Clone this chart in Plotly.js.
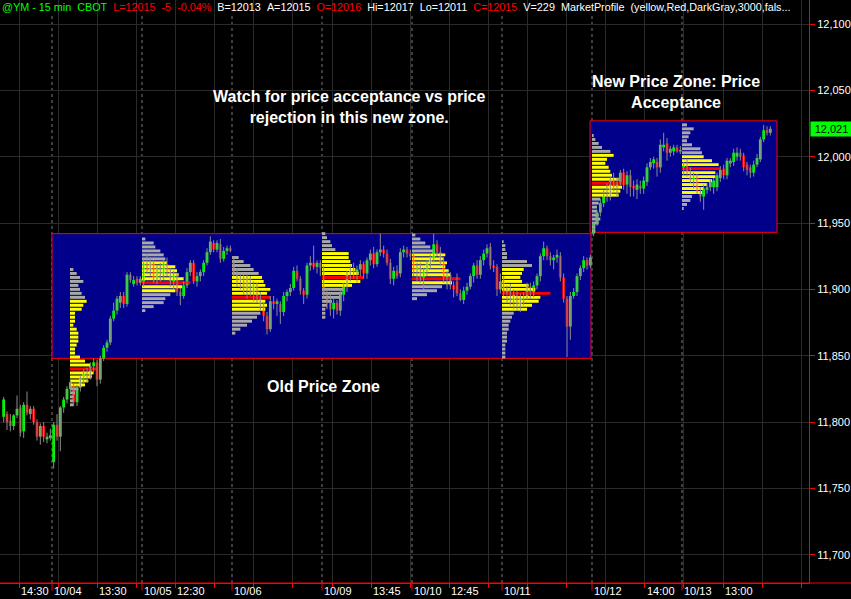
<!DOCTYPE html>
<html><head><meta charset="utf-8">
<script src="https://cdn.plot.ly/plotly-3.0.1.min.js"></script>
<style>html,body{margin:0;padding:0;background:#000;}#chart{width:851px;height:599px;}</style>
</head><body><div id="chart"></div>
<script>
// ---- candle data: [open, high, low, close] per 15-min bar, by session ----
const b1003 = [[11804,11819,11800,11817],[11806,11808,11794,11800],[11801,11806,11793,11797],[11797,11806,11794,11805],[11805,11820,11803,11810],[11811,11813,11789,11792],[11793,11815,11788,11813],[11813,11823,11805,11807],[11806,11812,11802,11810],[11810,11812,11798,11800],[11800,11802,11786,11789],[11789,11799,11783,11797],[11797,11800,11785,11789],[11787,11792,11784,11789],[11788,11795,11786,11790]];
const b1004 = [[11770,11800,11765,11798],[11798,11806,11786,11789],[11789,11812,11778,11811],[11811,11819,11807,11817],[11817,11827,11814,11825],[11825,11832,11822,11830],[11827,11829,11812,11815],[11815,11828,11812,11826],[11826,11835,11823,11833],[11833,11840,11829,11838],[11838,11841,11830,11834],[11834,11845,11832,11842],[11842,11848,11836,11845],[11845,11847,11827,11832],[11832,11850,11829,11848],[11848,11858,11846,11856],[11856,11862,11853,11860],[11860,11880,11858,11878],[11878,11890,11876,11884],[11884,11895,11881,11893],[11890,11898,11886,11895],[11895,11898,11886,11889],[11889,11913,11887,11911],[11911,11913,11905,11907],[11904,11910,11902,11907],[11908,11910,11903,11905],[11905,11910,11903,11908]];
const b1005 = [[11904,11923,11902,11921],[11921,11926,11912,11915],[11915,11924,11910,11920],[11920,11922,11905,11908],[11908,11918,11904,11916],[11916,11920,11906,11910],[11910,11922,11907,11919],[11919,11924,11910,11913],[11913,11916,11902,11905],[11905,11914,11900,11911],[11908,11912,11895,11898],[11898,11901,11888,11895],[11895,11906,11893,11903],[11903,11916,11901,11913],[11913,11922,11910,11920],[11920,11922,11904,11906],[11906,11913,11902,11910],[11910,11915,11906,11913],[11913,11922,11910,11920],[11920,11931,11918,11928],[11928,11940,11926,11936],[11935,11937,11928,11930],[11930,11937,11928,11935],[11934,11938,11920,11923],[11923,11932,11921,11929],[11929,11933,11926,11931],[11931,11933,11928,11929]];
const b1006 = [[11922,11924,11910,11912],[11912,11916,11902,11905],[11905,11912,11900,11909],[11909,11911,11896,11899],[11899,11912,11893,11908],[11908,11910,11895,11897],[11897,11906,11891,11903],[11903,11905,11890,11893],[11893,11898,11884,11887],[11887,11890,11876,11880],[11880,11883,11866,11870],[11870,11895,11868,11891],[11891,11895,11885,11889],[11889,11893,11880,11891],[11889,11891,11874,11883],[11883,11898,11880,11895],[11895,11900,11891,11898],[11898,11904,11895,11901],[11901,11917,11899,11914],[11914,11918,11906,11908],[11908,11910,11896,11899],[11899,11901,11889,11896],[11896,11920,11893,11918],[11918,11925,11914,11920],[11920,11933,11915,11917],[11917,11922,11912,11920],[11920,11922,11910,11916]];
const b1009 = [[11916,11918,11893,11896],[11896,11900,11885,11890],[11890,11897,11880,11885],[11885,11894,11878,11890],[11890,11892,11881,11884],[11884,11900,11880,11896],[11896,11905,11891,11902],[11902,11914,11898,11911],[11911,11918,11906,11915],[11915,11920,11908,11912],[11912,11918,11905,11915],[11915,11922,11910,11919],[11919,11921,11908,11912],[11912,11924,11908,11922],[11922,11930,11918,11927],[11927,11932,11916,11919],[11919,11930,11917,11928],[11928,11942,11925,11930],[11930,11933,11924,11927],[11927,11930,11918,11920],[11920,11923,11904,11908],[11908,11917,11903,11914],[11914,11918,11908,11910],[11912,11931,11909,11928],[11928,11933,11924,11930],[11930,11932,11924,11927],[11927,11930,11922,11925]];
const b1010 = [[11925,11928,11910,11914],[11914,11920,11906,11917],[11917,11920,11905,11908],[11908,11916,11900,11913],[11913,11922,11910,11920],[11920,11926,11915,11924],[11924,11942,11921,11934],[11934,11937,11925,11928],[11928,11932,11918,11921],[11921,11924,11905,11908],[11908,11914,11900,11911],[11911,11913,11900,11903],[11903,11906,11894,11900],[11906,11912,11895,11897],[11897,11900,11891,11892],[11892,11902,11889,11899],[11899,11905,11896,11902],[11902,11912,11900,11910],[11910,11920,11905,11918],[11918,11922,11908,11911],[11911,11925,11908,11922],[11922,11930,11918,11927],[11927,11934,11924,11931],[11932,11935,11915,11918],[11918,11922,11913,11916],[11917,11919,11895,11900],[11900,11912,11897,11906]];
const b1011 = [[11906,11910,11895,11898],[11898,11903,11890,11900],[11900,11904,11888,11892],[11892,11900,11885,11896],[11896,11899,11884,11889],[11889,11897,11883,11893],[11893,11898,11888,11895],[11895,11905,11892,11902],[11902,11905,11893,11897],[11897,11906,11894,11903],[11903,11912,11900,11910],[11910,11927,11906,11925],[11925,11936,11922,11931],[11931,11933,11922,11925],[11925,11928,11918,11922],[11922,11926,11915,11924],[11924,11930,11920,11926],[11925,11928,11906,11909],[11909,11912,11890,11893],[11893,11895,11849,11872],[11872,11898,11862,11895],[11895,11901,11893,11898],[11898,11912,11895,11910],[11910,11918,11907,11916],[11916,11925,11913,11922],[11922,11924,11915,11918],[11918,11926,11916,11924]];
const b1012 = [[11942,11951,11940,11950],[11950,11960,11948,11958],[11958,11968,11955,11965],[11965,11975,11962,11972],[11972,11980,11966,11970],[11970,11985,11967,11982],[11982,11988,11974,11977],[11977,11984,11970,11981],[11981,11990,11978,11988],[11988,11991,11975,11979],[11979,11989,11972,11986],[11986,11990,11970,11977],[11978,11982,11970,11976],[11975,11983,11968,11979],[11978,11982,11972,11976],[11976,11985,11972,11982],[11981,11995,11978,11992],[11992,11999,11990,11996],[11995,12000,11991,11998],[11996,11999,11985,11992],[11992,12013,11988,12009],[12007,12018,12004,12009],[12010,12014,11997,12003],[12003,12008,12000,12006],[12004,12009,12001,12007],[12007,12009,12003,12004],[12004,12008,12002,12005]];
const b1013 = [[11990,11996,11986,11994],[11994,11998,11985,11988],[11988,11992,11980,11983],[11983,11988,11976,11985],[11985,11987,11972,11974],[11974,11977,11966,11970],[11970,11979,11960,11976],[11975,11980,11972,11977],[11977,11983,11974,11981],[11977,11984,11972,11982],[11977,11988,11974,11986],[11984,11993,11981,11990],[11991,11994,11983,11986],[11986,11999,11983,11997],[11995,11999,11992,11997],[11996,12006,11993,12003],[12000,12007,11997,12003],[12003,12006,11997,12000],[12001,12003,11989,11992],[11994,11996,11986,11990],[11992,11994,11984,11988],[11988,11997,11985,11994],[11994,12002,11992,11999],[11998,12015,11996,12013],[12013,12024,12011,12020],[12020,12023,12016,12018],[12018,12023,12016,12021]];
const sessionBars = [b1003, b1004, b1005, b1006, b1009, b1010, b1011, b1012, b1013];
const sessionStart = [-15, 0, 27, 54, 81, 108, 135, 162, 189];   // bar index where each session begins

// ---- market profile (TPO counts per 3-point price level, top to bottom) ----
const mp1004 = [1,2,3,4,2.5,3,3.5,4.5,5,4,3.5,1.5,1.5,1.5,1,2,2.5,2.5,2.5,2,1.5,1.5,3,4.5,6,8,7,6.5,5.5,4.5,2.5,1.5,1,1,1];
const mp1005 = [1,3.5,4,5.5,6.5,7,7.5,10,10.5,11,12.5,14.5,12,10,8.5,7,6.5,3.5,1];
const mp1006 = [2,3.5,5.5,6.5,8,9,9.5,10,11.5,10.5,11.5,10,10.5,10,8.5,7.5,6,4.5,2.5,1];
const mp1009 = [1,1.5,2.5,3,4,8,8,8.5,9,10,11,12.5,11.5,9,6.5,6,5.5,3,1.5,1,1,1];
const mp1010 = [1,2.5,4,5.5,6.5,10,9.5,10.5,10,11,11.5,14.5,12,9,7.5,4.5,1.5];
const mp1011 = [0.5,1,1,1.5,1.5,7.5,9,6.5,6,5.5,6,8,10,14.5,11.5,11,9,7.5,3.5,3,2.5,2,2,1.5,1.5,1.5,1,1,1,1];
const mp1012 = [0.5,1,2,3,5.5,6.5,4.5,4,5,5.5,6,8,10,9,8.5,8,2.5,2,1.5,1.5,2,2.5,2,1,1];
const mp1013 = [1.5,3.5,2.5,2,1.5,3,5.5,6,6.5,9,11,11.5,10,10,9,7.5,6.5,6,3,2.5,1.5,0.5];
const mpLevels = [mp1004, mp1005, mp1006, mp1009, mp1010, mp1011, mp1012, mp1013];
const mpTop = [11915, 11938, 11924, 11942, 11941, 11936, 12016, 12024];
const mpStart = [5.4, 27, 54, 81, 108, 135, 162, 189];
const mpValueArea = [[8,29],[6,13],[5,13],[5,13],[5,12],[7,17],[5,15],[8,17]];
const mpPOC = [25, 11, 10, 11, 11, 13, 12, 11];
const mpStep = 3;

// ---- zones (price ranges and session spans) ----
const oldZone = {x0: 0, x1: 161.7, lo: 11848, hi: 11942};
const newZone = {x0: 161.4, x1: 217.5, lo: 11943, hi: 12027};

// ---- axis labels ----
const yTicks = [11700, 11750, 11800, 11850, 11900, 11950, 12000, 12050, 12100];
const gridX = [-9.9, 1.8, 13.6, 25.3, 37.0, 48.8, 60.5, 72.2, 84.0, 95.7, 107.4, 119.1, 130.9, 142.6, 154.3, 166.1, 177.8, 189.5, 201.3, 213.0, 224.7];
const xLabelText = ['14:30','10/04','13:30','10/05','12:30','10/06','10/09','13:45','10/10','12:45','10/11','10/12','14:00','10/13','13:00'];
const xLabelPos = [-9.9, 0, 13.6, 27, 37.0, 54, 81, 95.7, 108, 119.1, 135, 162, 177.8, 189, 201.3];
const lastPrice = 12021;
const header = [['@YM - 15 min','#00ff00'],['CBOT','#00ff00'],['L=12015','#ff0000'],['-5','#ff0000'],['-0.04%','#ff0000'],['B=12013','#ffffff'],['A=12015','#ffffff'],['O=12016','#ff0000'],['Hi=12017','#ffffff'],['Lo=12011','#ffffff'],['C=12015','#ff0000'],['V=229','#ffffff'],['MarketProfile\u00a0\u00a0(yellow,Red,DarkGray,3000,fals...','#ffffff']];

// ---- build traces ----
const GREEN = '#00ff00', RED = '#ff0000', YEL = '#ffff00', GRAY = '#a9a9a9';
const cx = [], co = [], ch = [], cl = [], cc = [];
sessionBars.forEach((bars, d) => bars.forEach((b, k) => {
  cx.push(sessionStart[d] + k + 0.5); co.push(b[0]); ch.push(b[1]); cl.push(b[2]); cc.push(b[3]);
}));
const wx = [], wy = [];
cx.forEach((x, i) => { wx.push(x, x, null); wy.push(cl[i], ch[i], null); });
const wicks = {type:'scatter', mode:'lines', x:wx, y:wy, line:{color:'#8c8c8c', width:1}, hoverinfo:'skip', showlegend:false};
const bodies = {type:'bar', x:cx, base:cx.map((x,i)=>Math.min(co[i],cc[i])),
  y:cx.map((x,i)=>Math.max(Math.abs(cc[i]-co[i]),0.9)), width:0.85,
  marker:{color:cx.map((x,i)=>cc[i]>=co[i]?GREEN:RED), line:{width:0}}, hoverinfo:'skip', showlegend:false};

const profTraces = mpLevels.map((lev, p) => ({
  type:'bar', orientation:'h',
  y: lev.map((v,i)=>mpTop[p]-mpStep*i), x: lev, base: lev.map(()=>mpStart[p]), width:2.2,
  marker:{color: lev.map((v,i)=> i===mpPOC[p] ? RED : (i>=mpValueArea[p][0] && i<=mpValueArea[p][1] ? YEL : GRAY)), line:{width:0}},
  hoverinfo:'skip', showlegend:false
}));

// ---- shapes ----
const shapes = [];
shapes.push({type:'rect', xref:'x', yref:'y', x0:oldZone.x0, x1:oldZone.x1, y0:oldZone.lo, y1:oldZone.hi, fillcolor:'#00008b', line:{color:RED, width:1}, layer:'between'});
shapes.push({type:'rect', xref:'x', yref:'y', x0:newZone.x0, x1:newZone.x1, y0:newZone.lo, y1:newZone.hi, fillcolor:'#00008b', line:{color:RED, width:1}, layer:'between'});
sessionStart.slice(1).forEach(s => {
  shapes.push({type:'line', xref:'x', yref:'paper', x0:s, x1:s, y0:0, y1:1, line:{color:'#7a7a7a', width:1, dash:'3px,3px'}, layer:'between'});
  shapes.push({type:'line', xref:'x', yref:'paper', x0:s, x1:s, y0:0, y1:-0.013, line:{color:RED, width:1}, layer:'above'});
});
shapes.push({type:'rect', xref:'paper', yref:'paper', x0:0, x1:1, y0:1-14/583, y1:1, fillcolor:'#000', line:{width:0}, layer:'between'});
shapes.push({type:'line', xref:'paper', yref:'paper', x0:0, x1:851/809, y0:0, y1:0, line:{color:RED, width:1}, layer:'above'});

// ---- annotations ----
const FONT = 'Liberation Sans, Arial, sans-serif';
const ann = [];
ann.push({xref:'paper', yref:'paper', x:0, y:1, xanchor:'left', yanchor:'top', yshift:1, showarrow:false, align:'left',
  text: header.map(h=>'<span style="color:'+h[1]+'">'+h[0]+'</span>').join('\u00a0\u00a0'),
  font:{family:FONT, size:10.8, color:'#fff'}});
xLabelText.forEach((t,i)=>ann.push({xref:'x', yref:'paper', x:xLabelPos[i], y:-0.0135, xanchor:'left', yanchor:'middle', showarrow:false, text:t, font:{family:FONT, size:11, color:'#fff'}}));
ann.push({xref:'x', yref:'y', x:89.1, y:12037.5, showarrow:false, text:'Watch for price acceptance vs price<br>rejection in this new zone.', font:{family:FONT, size:16, color:'#fff', weight:'bold'}});
ann.push({xref:'x', yref:'y', x:81.3, y:11826.5, showarrow:false, text:'Old Price Zone', font:{family:FONT, size:16, color:'#fff', weight:'bold'}});
ann.push({xref:'x', yref:'y', x:187.2, y:12048.8, showarrow:false, text:'New Price Zone: Price<br>Acceptance', font:{family:FONT, size:16, color:'#fff', weight:'bold'}});
ann.push({xref:'paper', yref:'y', x:1, xshift:1, y:lastPrice, xanchor:'left', yanchor:'middle', showarrow:false, text:'12,021', bgcolor:GREEN, borderpad:2, width:37, height:10, font:{family:FONT, size:11, color:'#000'}});

const layout = {
  width:851, height:599, margin:{l:0, r:42, t:0, b:16},
  paper_bgcolor:'#000', plot_bgcolor:'#000', barmode:'overlay', showlegend:false,
  font:{family:FONT, size:11, color:'#fff'},
  xaxis:{range:[-15.6, 227.1], tickvals:gridX, showticklabels:false, showgrid:true, gridcolor:'#2a2a2a', gridwidth:1,
    ticks:'outside', ticklen:4, tickcolor:RED, showline:true, linecolor:RED, zeroline:false, fixedrange:true},
  yaxis:{range:[11678.7, 12118.1], side:'right', tickvals:yTicks, tickformat:',d', showgrid:true, gridcolor:'#2a2a2a',
    ticks:'outside', ticklen:5, tickcolor:RED, showline:true, linecolor:RED, zeroline:false,
    tickfont:{family:FONT, size:11, color:'#fff'}, fixedrange:true},
  shapes:shapes, annotations:ann
};
Plotly.newPlot('chart', [wicks, bodies].concat(profTraces), layout, {displayModeBar:false, staticPlot:true});
</script></body></html>
